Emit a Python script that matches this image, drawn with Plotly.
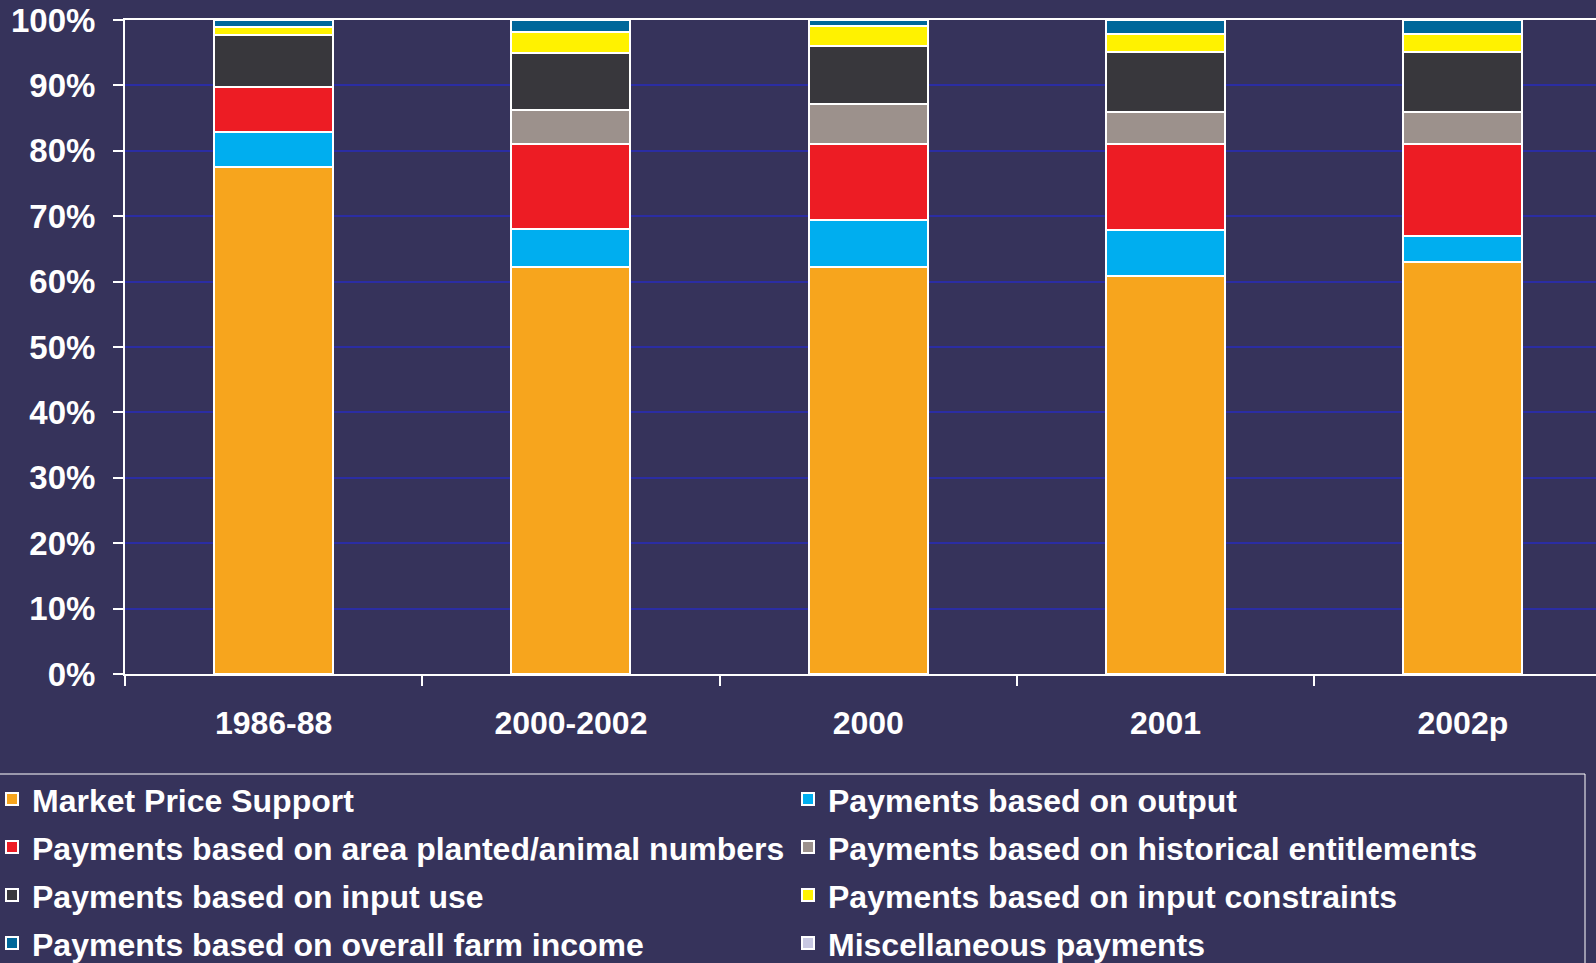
import plotly.graph_objects as go

categories = ["1986-88", "2000-2002", "2000", "2001", "2002p"]

series_names = [
    "Market Price Support",
    "Payments based on output",
    "Payments based on area planted/animal numbers",
    "Payments based on historical entitlements",
    "Payments based on input use",
    "Payments based on input constraints",
    "Payments based on overall farm income",
    "Miscellaneous payments",
]

market_price_support = [77.6, 62.3, 62.3, 60.8, 63.0]
payments_output = [5.2, 5.8, 7.1, 7.1, 3.9]
payments_area = [7.0, 12.9, 11.6, 13.1, 14.1]
payments_historical = [0.0, 5.2, 6.1, 4.9, 4.9]
payments_input_use = [7.9, 8.8, 8.9, 9.2, 9.2]
payments_input_constraints = [1.3, 3.1, 3.1, 2.8, 2.8]
payments_farm_income = [1.0, 1.9, 0.9, 2.1, 2.1]
payments_misc = [0.0, 0.0, 0.0, 0.0, 0.0]

series_values = [
    market_price_support, payments_output, payments_area, payments_historical,
    payments_input_use, payments_input_constraints, payments_farm_income, payments_misc,
]

colors = ["#f7a51d", "#00aeef", "#ed1c24", "#9c918c", "#38373c", "#fff200", "#00679a", "#c8c8e2"]

tick_vals = [0, 10, 20, 30, 40, 50, 60, 70, 80, 90, 100]
tick_text = [f"{v}%" for v in tick_vals]

BG = "#36335b"
GRID = "#2b2da3"

fig = go.Figure()
for name, vals, col in zip(series_names, series_values, colors):
    fig.add_trace(go.Bar(
        x=categories, y=vals,
        name=f'<span style="font-size:32px">{name}</span>',
        marker=dict(color=col, line=dict(color="white", width=2)),
        width=0.4,
    ))

L, T, B = 125, 20, 289
W, H = 1596, 963
plot_w = W - L
plot_h = H - T - B

# legend frame (drawn as a shape so the text rows can sit independently)
fig.add_shape(
    type="rect", xref="paper", yref="paper",
    x0=(-3 - L) / plot_w, x1=(1585 - L) / plot_w,
    y0=-(774 - (T + plot_h)) / plot_h, y1=-(1000 - (T + plot_h)) / plot_h,
    line=dict(color="white", width=1), fillcolor="rgba(0,0,0,0)",
    layer="above",
)

fig.update_layout(
    width=W, height=H,
    barmode="stack",
    paper_bgcolor=BG, plot_bgcolor=BG,
    margin=dict(l=L, r=0, t=T, b=B, autoexpand=False),
    font=dict(family="Liberation Sans, Arial, sans-serif", size=32, color="white", weight="bold"),
    showlegend=True,
    legend=dict(
        orientation="h",
        traceorder="normal",
        x=-133 / plot_w, xanchor="left",
        y=-96 / plot_h, yanchor="top",
        bgcolor="rgba(0,0,0,0)", borderwidth=0,
        entrywidth=751, entrywidthmode="pixels",
        font=dict(size=34.6, color="white"),
    ),
    xaxis=dict(
        type="category",
        range=[-0.5, -0.5 + plot_w / 297.3],
        showline=True, linecolor="white", linewidth=2, mirror=True,
        ticks="outside", ticklen=10, tickcolor="white", tickwidth=2,
        tickson="boundaries",
        showgrid=False,
        ticklabelstandoff=20,
        tickfont=dict(size=32, color="white"),
    ),
    yaxis=dict(
        range=[0, 100],
        tickvals=tick_vals, ticktext=tick_text,
        showline=True, linecolor="white", linewidth=2,
        ticks="outside", ticklen=10, tickcolor="white", tickwidth=2,
        showgrid=True, gridcolor=GRID, gridwidth=1.5,
        zeroline=False,
        ticklabelstandoff=11,
        tickfont=dict(size=33, color="white"),
    ),
)

fig.write_html(
    "out.html",
    config={"displayModeBar": False},
    post_script="document.body.style.margin='0px';",
)
